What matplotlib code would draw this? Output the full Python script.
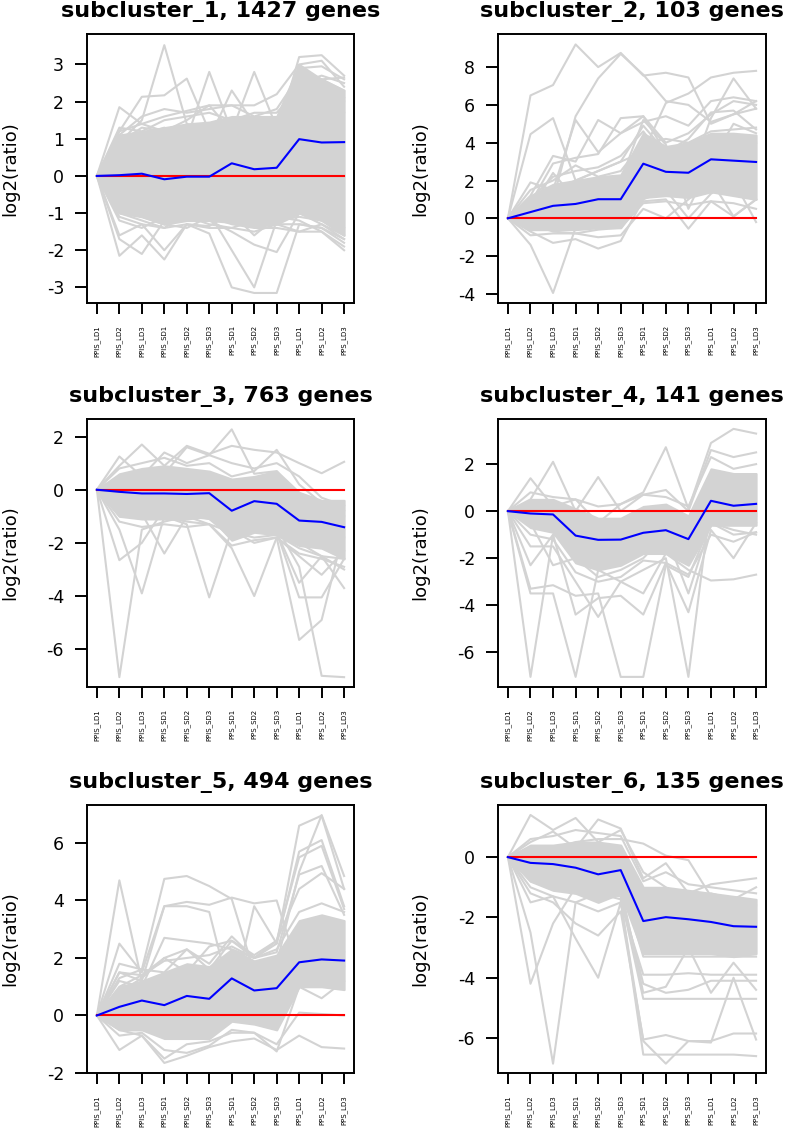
import matplotlib
matplotlib.use('Agg')
import matplotlib.pyplot as plt

plt.rcParams['axes.unicode_minus'] = False

samples = ['PPIS_LD1', 'PPIS_LD2', 'PPIS_LD3', 'PPIS_SD1', 'PPIS_SD2', 'PPIS_SD3',
           'PPS_SD1', 'PPS_SD2', 'PPS_SD3', 'PPS_LD1', 'PPS_LD2', 'PPS_LD3']

titles = ['subcluster_1, 1427 genes', 'subcluster_2, 103 genes',
          'subcluster_3, 763 genes', 'subcluster_4, 141 genes',
          'subcluster_5, 494 genes', 'subcluster_6, 135 genes']

# cluster mean profiles (blue)
mean_1 = [0, 0.02, 0.06, -0.09, -0.02, -0.02, 0.34, 0.18, 0.22, 0.99, 0.90, 0.91]
mean_2 = [0, 0.33, 0.66, 0.76, 1.01, 1.01, 2.89, 2.46, 2.41, 3.12, 3.05, 2.98]
mean_3 = [0, -0.08, -0.14, -0.14, -0.16, -0.13, -0.79, -0.43, -0.53, -1.16, -1.21, -1.41]
mean_4 = [0, -0.10, -0.14, -1.04, -1.22, -1.21, -0.92, -0.81, -1.19, 0.44, 0.23, 0.31]
mean_5 = [0, 0.30, 0.52, 0.36, 0.68, 0.58, 1.29, 0.87, 0.95, 1.85, 1.95, 1.91]
mean_6 = [0, -0.19, -0.23, -0.35, -0.57, -0.43, -2.12, -1.99, -2.06, -2.15, -2.29, -2.31]

# dense core of the gene profiles (upper / lower edge of the solid grey)
core_hi_1 = [0, 1.1, 1.2, 1.3, 1.4, 1.45, 1.6, 1.6, 1.6, 3.0, 2.6, 2.3]
core_lo_1 = [0, -1.0, -1.1, -1.3, -1.2, -1.2, -1.25, -1.35, -1.3, -1.0, -1.2, -1.6]
core_hi_2 = [0, 1.2, 1.8, 2.0, 2.2, 2.3, 4.5, 3.8, 4.0, 4.5, 4.5, 4.4]
core_lo_2 = [0, -0.6, -0.6, -0.6, -0.5, -0.5, 1.1, 1.2, 1.1, 1.4, 1.2, 1.0]
core_hi_3 = [0, 0.6, 0.8, 0.9, 0.8, 0.7, 0.4, 0.5, 0.7, -0.1, -0.4, -0.4]
core_lo_3 = [0, -1.0, -1.1, -1.1, -1.1, -1.0, -1.9, -1.6, -1.7, -2.1, -2.2, -2.6]
core_hi_4 = [0, 0.5, 0.5, 0.1, -0.3, -0.3, 0.2, 0.3, -0.2, 1.8, 1.6, 1.6]
core_lo_4 = [0, -0.7, -0.9, -2.2, -2.5, -2.3, -1.8, -1.8, -2.3, -0.6, -0.6, -0.6]
core_hi_5 = [0, 1.0, 1.2, 1.5, 1.8, 1.7, 2.3, 1.9, 2.1, 3.3, 3.5, 3.3]
core_lo_5 = [0, -0.5, -0.5, -0.8, -0.8, -0.8, -0.2, -0.3, -0.5, 1.0, 1.0, 0.9]
core_hi_6 = [0, 0.4, 0.4, 0.5, 0.5, 0.4, -1.0, -1.0, -1.1, -1.2, -1.3, -1.4]
core_lo_6 = [0, -0.8, -1.1, -1.2, -1.5, -1.2, -3.2, -3.2, -3.2, -3.2, -3.3, -3.2]

# individual gene profiles that stand out from the core
genes_1 = [
    [0, 0.9, 1.5, 3.52, 1.4, 1.2, 1.0, 1.3, 1.1, 2.2, 2.1, 2.0],
    [0, 1.85, 1.4, 1.2, 1.1, 1.0, 1.2, 1.1, 0.9, 1.9, 1.8, 1.7],
    [0, 1.2, 2.13, 2.17, 2.62, 1.2, 1.3, 1.5, 1.2, 2.8, 2.6, 2.3],
    [0, 1.0, 1.1, 1.3, 1.0, 2.8, 1.2, 1.0, 1.1, 3.2, 3.25, 2.7],
    [0, 0.8, 1.0, 1.0, 1.2, 1.0, 2.3, 1.4, 1.5, 2.9, 2.95, 2.6],
    [0, 0.9, 1.3, 1.2, 1.5, 1.9, 1.2, 2.8, 1.3, 2.5, 2.7, 2.5],
    [0, 1.2, 1.4, 1.6, 1.75, 1.9, 1.9, 1.9, 2.2, 3.0, 3.1, 2.4],
    [0, 1.1, 1.6, 1.8, 1.7, 1.8, 1.9, 1.6, 1.8, 2.7, 2.6, 2.65],
    [0, 1.3, 1.2, 1.5, 1.6, 1.7, 1.5, 1.7, 1.7, 2.4, 2.3, 2.1],
    [0, -1.7, -2.1, -1.2, -1.1, -1.3, -1.4, -1.2, -1.3, -1.5, -1.3, -1.6],
    [0, -2.15, -1.6, -2.25, -1.3, -1.35, -1.0, -1.6, -1.1, -1.2, -1.5, -2.0],
    [0, -1.6, -1.3, -2.0, -1.3, -1.55, -3.0, -3.15, -3.15, -1.3, -1.4, -1.8],
    [0, -1.2, -1.4, -1.1, -1.2, -1.0, -2.0, -3.0, -1.2, -1.1, -1.2, -1.4],
    [0, -1.0, -1.2, -1.4, -1.0, -1.2, -1.5, -1.85, -2.05, -1.0, -1.3, -1.7],
    [0, -0.9, -1.1, -1.3, -1.4, -1.1, -1.3, -1.4, -1.4, -1.5, -1.5, -1.9],
    [0, -1.1, -1.3, -1.4, -1.3, -1.4, -1.4, -1.5, -1.3, -1.3, -1.4, -1.7],
]
genes_2 = [
    [0, 6.5, 7.05, 9.2, 8.0, 8.75, 7.55, 7.7, 7.45, 5.0, 5.5, 5.8],
    [0, 4.45, 5.3, 2.0, 2.5, 3.0, 3.5, 6.1, 6.6, 7.45, 7.7, 7.8],
    [0, 0.5, 1.0, 5.4, 7.4, 8.7, 7.6, 6.2, 6.0, 5.1, 5.5, 6.2],
    [0, 1.0, 1.5, 5.2, 3.5, 4.5, 5.4, 4.0, 4.5, 5.5, 6.2, 6.0],
    [0, 1.2, 3.3, 3.0, 5.2, 4.5, 5.1, 5.4, 4.9, 6.2, 6.4, 6.2],
    [0, 0.8, 2.9, 3.2, 3.4, 5.3, 5.4, 3.5, 2.0, 5.3, 7.4, 5.8],
    [0, -1.4, -3.95, -0.5, -0.3, -0.2, 0.9, 1.0, -0.55, 0.9, 0.1, 1.0],
    [0, -0.7, -1.3, -1.1, -1.6, -1.2, 1.0, 1.5, 0.0, 1.3, 2.0, -0.2],
    [0, -0.9, -0.8, -0.8, -1.0, -0.9, 0.5, 0.0, 1.0, 2.0, 0.1, 1.0],
    [0, 1.9, 1.5, 2.0, 2.5, 3.0, 4.9, 3.5, 4.2, 5.6, 5.7, 4.7],
    [0, 0.5, 2.4, 1.0, 1.5, 2.0, 5.2, 3.9, 0.5, 3.0, 5.0, 4.5],
    [0, 1.5, 2.0, 2.8, 2.2, 2.5, 4.0, 4.2, 4.0, 4.6, 4.7, 4.8],
    [0, 1.0, 2.2, 2.5, 2.7, 3.3, 4.6, 3.0, 3.5, 4.2, 3.8, 4.0],
    [0, -0.3, -0.7, -0.8, -0.6, -0.5, 0.8, 0.9, 0.7, 0.9, 0.8, 0.5],
]
genes_3 = [
    [0, -7.05, -1.5, -1.2, -1.0, -0.8, -1.0, -1.2, -1.3, -1.5, -1.6, -1.8],
    [0, -2.65, -2.0, -0.7, -0.9, -1.1, -1.3, -1.4, -1.5, -2.0, -2.5, -2.6],
    [0, -1.5, -3.9, -1.0, -1.2, -1.3, -1.6, -1.8, -1.7, -2.2, -2.5, -3.0],
    [0, -1.0, -0.9, -2.4, -1.0, -1.3, -2.2, -4.0, -1.8, -2.5, -3.2, -2.3],
    [0, -0.8, -1.0, -1.0, -1.3, -4.05, -1.5, -1.4, -1.6, -3.5, -2.5, -3.7],
    [0, -0.5, -0.6, -0.4, -0.8, -0.7, -1.5, -2.0, -1.8, -5.65, -4.9, -1.5],
    [0, -0.4, -0.5, -0.6, -0.7, -0.6, -1.2, -1.6, -1.4, -2.9, -7.0, -7.05],
    [0, -0.6, -0.9, -0.7, -1.0, -1.1, -1.8, -1.5, -1.6, -4.05, -4.05, -2.6],
    [0, 1.25, 0.5, 1.4, 1.0, 1.3, 2.27, 0.6, 0.7, -0.4, -0.9, -1.0],
    [0, 0.9, 1.7, 0.9, 1.65, 1.35, 1.65, 1.5, 1.4, 1.0, 0.62, 1.05],
    [0, 0.8, 1.0, 1.2, 0.9, 1.0, 0.5, 0.7, 1.5, 0.2, -0.5, -0.8],
    [0, 0.5, 0.7, 0.6, 1.6, 1.3, 1.0, 0.8, 1.0, 0.5, -0.3, -0.6],
    [0, -1.2, -1.4, -1.3, -1.4, -1.3, -2.1, -1.9, -1.8, -2.4, -2.6, -2.9],
]
genes_4 = [
    [0, -7.05, -1.0, -1.5, -2.0, -2.3, -1.5, -1.8, -2.0, 0.0, -0.3, -0.2],
    [0, -3.5, -3.5, -7.05, -2.5, -3.0, -2.5, -2.0, -7.05, 0.5, 0.2, 0.0],
    [0, -3.3, -3.15, -3.6, -3.5, -7.05, -7.05, -2.3, -2.8, -0.5, -0.8, -1.0],
    [0, -2.3, -1.0, -4.4, -3.7, -3.6, -4.4, -2.2, -4.3, -0.8, -2.0, -0.5],
    [0, -1.5, -1.5, -3.0, -4.5, -3.0, -3.5, -1.8, -2.5, -2.95, -2.9, -2.7],
    [0, 1.4, 0.2, 0.5, -0.5, 0.3, 0.8, 2.72, 0.1, 2.9, 3.5, 3.3],
    [0, 0.5, 2.1, 0.0, 1.45, 0.0, 0.7, 0.9, 0.0, 2.6, 2.3, 2.5],
    [0, 0.8, 0.6, 0.5, 0.2, 0.3, 0.7, 0.6, 0.2, 2.3, 1.8, 2.0],
    [0, -0.5, -2.3, -2.0, -2.8, -2.5, -2.0, -1.0, -3.5, -0.5, -1.0, -0.9],
    [0, -1.0, -1.2, -2.6, -3.0, -2.8, -2.1, -2.2, -2.7, -1.0, -1.3, -0.9],
]
genes_5 = [
    [0, 4.7, 1.2, 0.9, 1.0, 1.2, 1.5, 1.2, 1.1, 2.0, 2.5, 2.2],
    [0, 2.5, 1.5, 3.8, 3.95, 3.85, 4.1, 3.9, 4.0, 1.5, 1.8, 1.7],
    [0, 1.8, 1.6, 4.75, 4.85, 4.5, 4.05, 1.5, 1.8, 5.0, 6.97, 4.85],
    [0, 1.5, 1.2, 3.8, 3.8, 3.6, 0.5, 3.8, 2.5, 6.6, 6.95, 4.4],
    [0, 1.2, 1.0, 2.7, 2.6, 2.5, 2.3, 2.0, 2.5, 5.7, 6.1, 3.8],
    [0, 1.0, 1.4, 2.0, 2.3, 1.8, 2.75, 2.0, 2.6, 5.5, 5.9, 3.7],
    [0, 0.8, 1.3, 2.0, 1.5, 2.4, 2.6, 2.0, 2.2, 4.9, 5.2, 3.5],
    [0, -1.2, -0.7, -1.65, -1.4, -1.1, -0.9, -0.8, -1.2, -0.7, -1.1, -1.15],
    [0, -0.7, -0.6, -1.2, -1.3, -1.05, -0.5, -0.6, -1.0, 0.1, 0.05, 0.0],
    [0, -0.5, -0.7, -1.5, -1.0, -0.9, -0.6, -0.6, -1.25, 1.0, 0.6, 1.2],
    [0, 1.3, 1.6, 1.5, 2.3, 1.6, 2.6, 2.1, 2.6, 4.4, 4.95, 4.4],
    [0, 1.5, 1.4, 1.9, 2.0, 2.1, 2.4, 2.0, 2.3, 3.6, 3.9, 3.6],
]
genes_6 = [
    [0, 1.4, 0.9, 1.3, 0.5, 0.9, -0.5, -1.0, -1.5, -1.2, -1.4, -1.0],
    [0, 0.5, 0.85, 0.3, 1.25, 0.95, -0.7, -0.2, -1.2, -0.9, -0.8, -0.7],
    [0, 0.2, 0.3, 0.5, 0.6, 0.6, 0.45, 0.05, -0.1, -1.3, -1.5, -1.6],
    [0, -4.2, -2.2, -1.0, -1.2, -1.3, -4.7, -4.7, -4.7, -4.7, -4.7, -4.7],
    [0, -2.5, -6.85, -1.5, -1.2, -1.4, -6.55, -6.55, -6.55, -6.55, -6.55, -6.6],
    [0, -1.5, -1.3, -2.7, -4.0, -1.5, -6.1, -6.85, -6.1, -6.1, -5.85, -5.85],
    [0, -1.2, -1.5, -2.2, -2.6, -1.8, -6.05, -5.9, -6.1, -6.15, -4.0, -6.05],
    [0, -1.0, -1.3, -1.5, -1.8, -1.5, -3.9, -3.9, -3.85, -3.9, -3.9, -3.9],
    [0, -0.8, -1.0, -1.2, -1.3, -1.2, -4.2, -4.5, -4.4, -4.1, -4.1, -4.1],
    [0, -0.5, -0.8, -1.0, -1.1, -1.0, -4.5, -4.3, -3.0, -4.5, -3.5, -4.4],
    [0, -0.3, -0.5, -0.7, -0.9, -0.8, -3.3, -3.3, -3.3, -3.3, -3.3, -3.3],
    [0, 0.6, 0.7, 0.9, 0.8, 0.7, -0.8, -0.5, -0.9, -1.0, -1.1, -1.2],
]

ylims = [(-3.42, 3.82), (-4.48, 9.75), (-7.42, 2.66), (-7.48, 3.92),
         (-1.99, 7.32), (-7.16, 1.73)]
yticks = [range(-3, 4), range(-4, 9, 2), range(-6, 3, 2), range(-6, 3, 2),
          range(-2, 7, 2), range(-6, 1, 2)]

means = [mean_1, mean_2, mean_3, mean_4, mean_5, mean_6]
cores = [(core_lo_1, core_hi_1), (core_lo_2, core_hi_2), (core_lo_3, core_hi_3),
         (core_lo_4, core_hi_4), (core_lo_5, core_hi_5), (core_lo_6, core_hi_6)]
genes = [genes_1, genes_2, genes_3, genes_4, genes_5, genes_6]

W, H = 785, 1129
col_x = [(87, 354), (498, 766)]
row_y = [(34, 303), (419, 687), (805, 1073)]

fig = plt.figure(figsize=(W / 100, H / 100), dpi=100)
x = list(range(len(samples)))

for i in range(6):
    r, c = divmod(i, 2)
    x0, x1 = col_x[c]
    y0, y1 = row_y[r]
    ax = fig.add_axes([x0 / W, 1 - y1 / H, (x1 - x0) / W, (y1 - y0) / H])

    lo, hi = cores[i]
    ax.fill_between(x, lo, hi, color='lightgray', lw=1.5)
    for g in genes[i]:
        ax.plot(x, g, color='lightgray', lw=1.5)
    ax.plot(x, [0] * len(x), color='red', lw=1.5)
    ax.plot(x, means[i], color='blue', lw=1.5)

    ax.set_xlim(-0.44, len(x) - 1 + 0.44)
    ax.set_ylim(*ylims[i])
    ax.set_xticks(x)
    ax.set_xticklabels(samples, rotation=90, fontsize=5)
    ax.set_yticks(list(yticks[i]))
    ax.tick_params(axis='y', labelsize=12.5, length=8.5, width=1.4, pad=8)
    ax.tick_params(axis='x', length=8, width=1.4, pad=8)
    for s in ax.spines.values():
        s.set_linewidth(1.4)
    ax.set_ylabel('log2(ratio)', fontsize=13)
    ax.yaxis.set_label_coords(-0.255, 0.5)
    ax.set_title(titles[i], fontsize=16, fontweight='bold', pad=12)

fig.savefig('out.png', dpi=100)
